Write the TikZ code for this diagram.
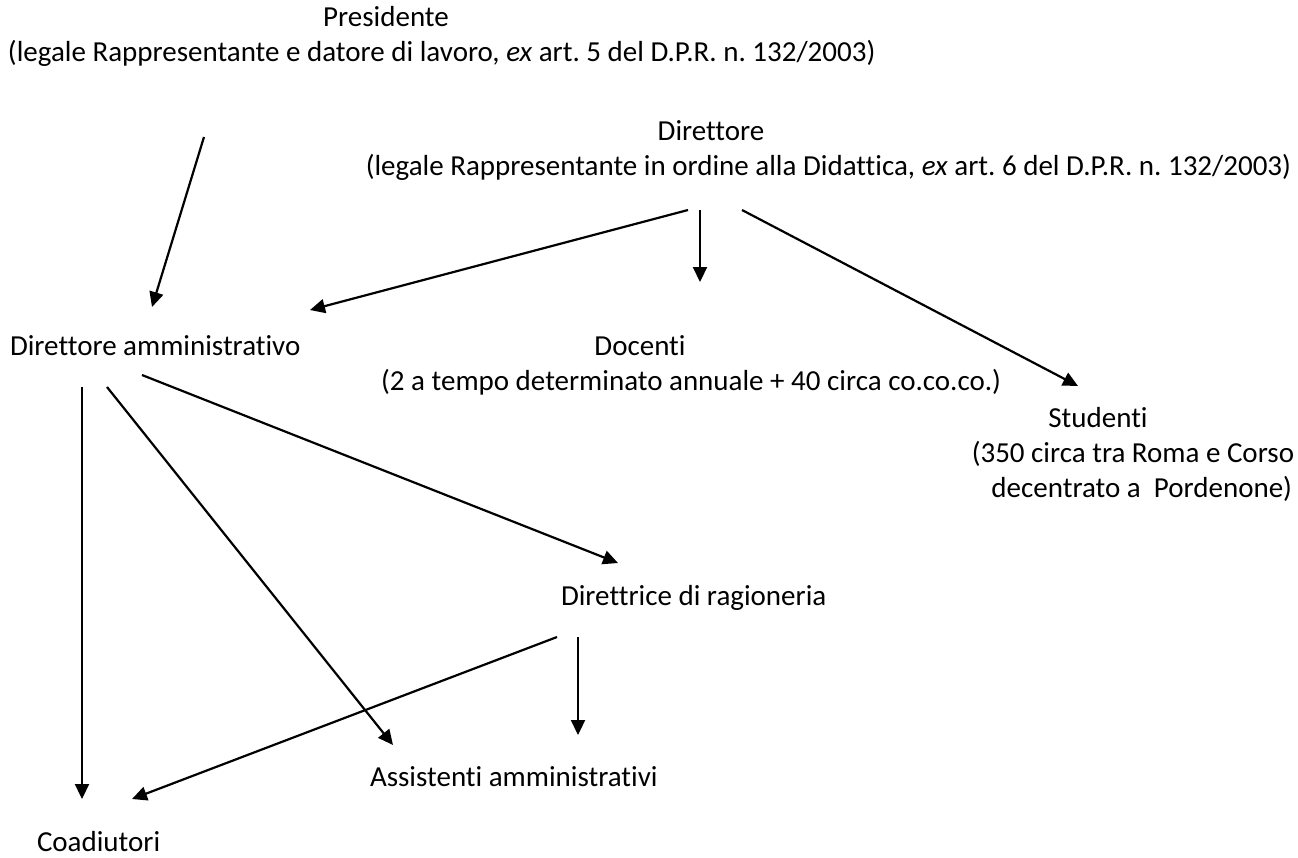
\documentclass[tikz,border=0pt]{standalone}
\usepackage{fontspec}
\setmainfont{Carlito}[Ligatures=NoCommon]
\usetikzlibrary{arrows.meta}
\frenchspacing
\begin{document}
\begin{tikzpicture}[x=1pt,y=-1pt,
  lbl/.style={inner sep=0pt,outer sep=0pt,font=\fontsize{29}{35}\selectfont},
  conn/.style={line width=2.2pt,-{Triangle[length=15pt,width=14pt]}}]
\useasboundingbox (0,0) rectangle (1298,857);
% texts
\node[lbl,anchor=base] (pres) at (386,26) {Presidente};
\node[lbl,anchor=base west] (pres2) at (8,61) {(legale Rappresentante e datore di lavoro, \textit{ex} art. 5 del D.P.R. n. 132/2003)};
\node[lbl,anchor=base] (dir) at (711,140) {Direttore};
\node[lbl,anchor=base east] (dir2) at (1291,175) {(legale Rappresentante in ordine alla Didattica, \textit{ex} art. 6 del D.P.R. n. 132/2003)};
\node[lbl,anchor=base west] (diramm) at (10,355) {Direttore amministrativo};
\node[lbl,anchor=base] (doc) at (640,355) {Docenti};
\node[lbl,anchor=base east] (doc2) at (1001,390) {(2 a tempo determinato annuale + 40 circa co.co.co.)};
\node[lbl,anchor=base] (stud) at (1098,427) {Studenti};
\node[lbl,anchor=base east] (stud2) at (1294,462) {(350 circa tra Roma e Corso};
\node[lbl,anchor=base east] (stud3) at (1292,497) {decentrato a\ \ Pordenone)};
\node[lbl,anchor=base west] (ragio) at (561,605) {Direttrice di ragioneria};
\node[lbl,anchor=base west] (assist) at (370,786) {Assistenti amministrativi};
\node[lbl,anchor=base west] (coad) at (37,851) {Coadiutori};
% connector ends
\coordinate (presO) at (204,137);
\coordinate (diramIn1) at (152,307);
\coordinate (dirO1) at (688,210);
\coordinate (diramIn2) at (310,310);
\coordinate (dirO2) at (700,210);
\coordinate (docIn) at (700,282);
\coordinate (dirO3) at (742,210);
\coordinate (studIn) at (1078,386);
\coordinate (diramO1) at (82,387);
\coordinate (coadIn1) at (82,799);
\coordinate (diramO2) at (107,387);
\coordinate (assistIn1) at (393,745);
\coordinate (diramO3) at (142,375);
\coordinate (ragioIn) at (618,563);
\coordinate (ragioO1) at (557,637);
\coordinate (coadIn2) at (132,799);
\coordinate (ragioO2) at (578,637);
\coordinate (assistIn2) at (578,735);
% connectors
\draw[conn] (presO) -- (diramIn1);
\draw[conn] (dirO1) -- (diramIn2);
\draw[conn] (dirO2) -- (docIn);
\draw[conn] (dirO3) -- (studIn);
\draw[conn] (diramO1) -- (coadIn1);
\draw[conn] (diramO2) -- (assistIn1);
\draw[conn] (diramO3) -- (ragioIn);
\draw[conn] (ragioO1) -- (coadIn2);
\draw[conn] (ragioO2) -- (assistIn2);
\end{tikzpicture}
\end{document}
